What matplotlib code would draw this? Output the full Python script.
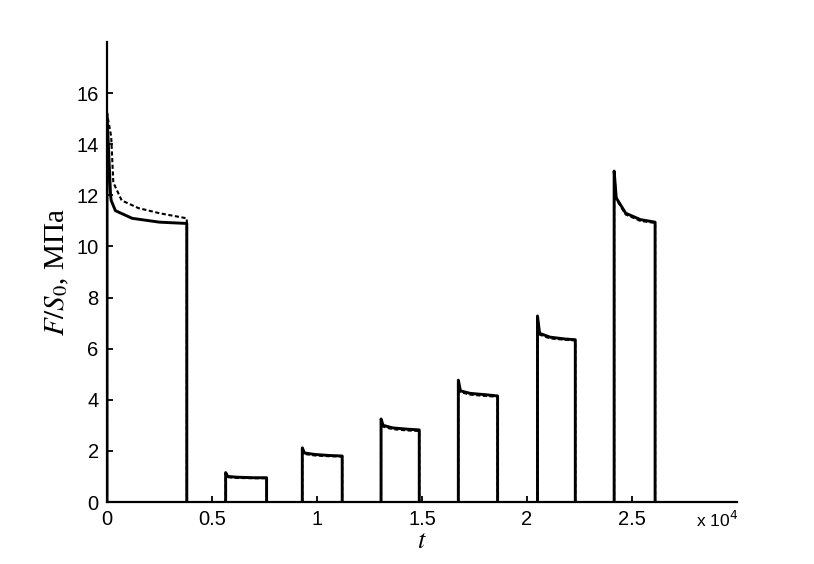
import numpy as np
import matplotlib; matplotlib.use("Agg")
import matplotlib.pyplot as plt

plt.rcParams["font.family"] = ["Liberation Sans", "DejaVu Sans"]
plt.rcParams["mathtext.fontset"] = "stix"

# time in units of 1e4, F/S0 in MPa; each block: loading step with relaxation
solid_t = [
    [0.0, 0.0, 0.017, 0.02, 0.04, 0.12, 0.25, 0.38, 0.38],
    [0.565, 0.565, 0.575, 0.62, 0.70, 0.76, 0.76],
    [0.93, 0.93, 0.94, 0.99, 1.06, 1.12, 1.12],
    [1.305, 1.305, 1.315, 1.36, 1.43, 1.487, 1.487],
    [1.673, 1.673, 1.683, 1.73, 1.80, 1.86, 1.86],
    [2.05, 2.05, 2.06, 2.11, 2.18, 2.23, 2.23],
    [2.415, 2.415, 2.425, 2.47, 2.54, 2.61, 2.61],
]
solid_f = [
    [0, 15.2, 12.0, 11.8, 11.4, 11.1, 10.95, 10.9, 0],
    [0, 1.15, 1.0, 0.97, 0.95, 0.95, 0],
    [0, 2.12, 1.92, 1.86, 1.82, 1.80, 0],
    [0, 3.25, 3.0, 2.9, 2.85, 2.82, 0],
    [0, 4.77, 4.35, 4.25, 4.2, 4.15, 0],
    [0, 7.28, 6.6, 6.45, 6.38, 6.35, 0],
    [0, 12.95, 11.9, 11.3, 11.05, 10.95, 0],
]
dash_t = [
    [0.0, 0.0, 0.02, 0.03, 0.07, 0.15, 0.25, 0.38, 0.38],
    [0.565, 0.565, 0.575, 0.62, 0.70, 0.76, 0.76],
    [0.93, 0.93, 0.94, 0.99, 1.06, 1.12, 1.12],
    [1.305, 1.305, 1.315, 1.36, 1.43, 1.487, 1.487],
    [1.673, 1.673, 1.683, 1.73, 1.80, 1.86, 1.86],
    [2.05, 2.05, 2.06, 2.11, 2.18, 2.23, 2.23],
    [2.415, 2.415, 2.425, 2.47, 2.54, 2.61, 2.61],
]
dash_f = [
    [0, 15.2, 14.3, 12.5, 11.8, 11.5, 11.3, 11.1, 0],
    [0, 1.12, 0.97, 0.94, 0.93, 0.93, 0],
    [0, 2.08, 1.88, 1.82, 1.79, 1.78, 0],
    [0, 3.2, 2.95, 2.85, 2.8, 2.78, 0],
    [0, 4.7, 4.3, 4.2, 4.15, 4.12, 0],
    [0, 7.2, 6.55, 6.4, 6.35, 6.32, 0],
    [0, 12.9, 11.85, 11.25, 11.0, 10.92, 0],
]
xticks = [0, 0.5, 1, 1.5, 2, 2.5]
yticks = [0, 2, 4, 6, 8, 10, 12, 14, 16]

fig = plt.figure(figsize=(8.14, 5.64), dpi=100)
ax = fig.add_axes([107 / 814, 62 / 564, 630 / 814, 460 / 564])

for t, f in zip(dash_t, dash_f):
    ax.plot(np.array(t) * 1e4, f, color="black", lw=1.5, ls=(0, (2, 1.2)))
for t, f in zip(solid_t, solid_f):
    ax.plot(np.array(t) * 1e4, f, color="black", lw=2.1)

ax.set_xlim(0, 3e4); ax.set_ylim(0, 18)
ax.set_xticks([x * 1e4 for x in xticks]); ax.set_xticklabels([f"{x:g}" for x in xticks])
ax.set_yticks(yticks)
for s in ["top", "right"]:
    ax.spines[s].set_visible(False)
for s in ["left", "bottom"]:
    ax.spines[s].set_linewidth(1.6)
ax.tick_params(direction="in", length=4, width=1.3, labelsize=14.5, pad=6)

ax.set_ylabel("$F/S_0$, МПа", family="Liberation Serif", fontsize=21, labelpad=4)
ax.set_xlabel("$t$", fontsize=19, labelpad=0)
fig.text(0.907, 0.078, r"x 10$^4$", ha="right", va="center", fontsize=12.5,
         math_fontfamily="dejavusans")

fig.savefig("out.png", dpi=100)
